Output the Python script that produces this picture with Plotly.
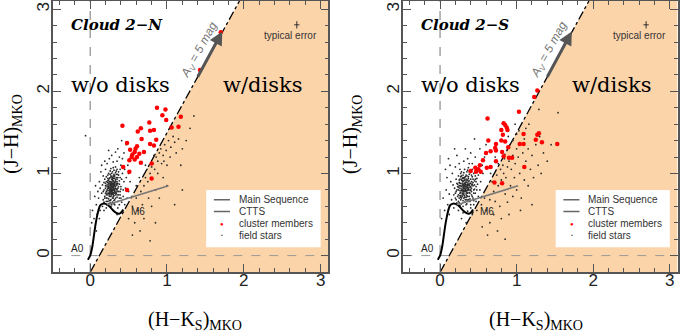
import plotly.graph_objects as go
from plotly.subplots import make_subplots

# ---------------- data ----------------
# Cloud 2-N : cluster members (H-Ks, J-H)
n_members_hk = [0.87, 0.98, 0.94, 0.99, 1.18, 0.77, 0.42, 0.66, 0.62, 0.78, 0.83, 1.06, 1.15,
                0.67, 0.86, 0.48, 0.78, 0.83, 0.61, 0.59, 0.52, 0.58, 0.64, 0.70, 0.55, 0.54,
                0.61, 0.58, 0.51, 0.66, 0.80, 0.43, 0.51, 0.80, 0.48, 1.43, 1.70]
n_members_jh = [1.80, 1.78, 1.71, 1.65, 1.69, 1.62, 1.58, 1.55, 1.51, 1.52, 1.53, 1.56, 1.57,
                1.42, 1.41, 1.37, 1.36, 1.34, 1.33, 1.30, 1.29, 1.26, 1.24, 1.26, 1.23, 1.20,
                1.20, 1.17, 1.16, 1.13, 1.12, 1.08, 1.02, 0.94, 0.80, 2.26, 2.72]

# Cloud 2-S : cluster members
s_members_hk = [1.27, 1.23, 1.03, 0.62, 0.83, 0.85, 0.87, 0.80, 0.88, 0.82, 1.09, 1.04, 1.09,
                1.27, 1.29, 1.25, 1.33, 1.53, 0.63, 0.73, 0.80, 0.85, 0.89, 0.72, 0.73, 0.66,
                0.81, 0.83, 0.90, 0.94, 0.60, 0.56, 0.52, 0.46, 0.50, 0.40, 0.47, 0.53, 0.61,
                0.66, 0.73, 1.10, 0.71, 0.81]
s_members_jh = [2.01, 1.93, 1.75, 1.67, 1.61, 1.59, 1.56, 1.53, 1.53, 1.47, 1.48, 1.36, 1.36,
                1.47, 1.49, 1.41, 1.38, 1.36, 1.40, 1.36, 1.40, 1.39, 1.32, 1.31, 1.28, 1.27,
                1.26, 1.21, 1.19, 1.19, 1.25, 1.16, 1.10, 1.07, 1.05, 1.03, 1.02, 1.02, 1.07,
                1.08, 1.15, 1.08, 0.89, 0.88]

# Cloud 2-N : field stars
n_field = [
    (0.22, 0.70), (0.25, 0.74), (0.28, 0.78), (0.30, 0.80), (0.27, 0.83), (0.24, 0.86), (0.31, 0.88),
    (0.33, 0.84), (0.29, 0.91), (0.26, 0.95), (0.35, 0.90), (0.32, 0.97), (0.21, 0.78), (0.19, 0.72),
    (0.23, 0.66), (0.27, 0.68), (0.30, 0.72), (0.34, 0.76), (0.36, 0.82), (0.38, 0.87), (0.28, 0.86),
    (0.25, 0.81), (0.22, 0.84), (0.20, 0.88), (0.24, 0.92), (0.30, 0.94), (0.34, 0.99), (0.37, 1.02),
    (0.28, 1.00), (0.31, 1.04), (0.26, 0.77), (0.29, 0.75), (0.32, 0.79), (0.27, 0.72), (0.24, 0.69),
    (0.21, 0.74), (0.18, 0.80), (0.23, 0.89), (0.27, 0.90), (0.33, 0.92), (0.29, 0.83), (0.26, 0.85),
    (0.31, 0.82), (0.28, 0.81), (0.25, 0.79), (0.30, 0.86), (0.27, 0.88), (0.32, 0.87), (0.35, 0.86),
    (0.23, 0.82), (0.20, 0.76), (0.17, 0.68), (0.22, 0.62), (0.26, 0.64), (0.31, 0.67), (0.35, 0.71),
    (0.39, 0.78), (0.40, 0.84), (0.41, 0.93), (0.36, 0.95), (0.33, 1.08), (0.27, 1.06), (0.23, 0.98),
    (0.19, 0.93), (0.16, 0.86), (0.15, 0.76), (0.18, 0.65), (0.29, 0.65), (0.33, 0.70), (0.37, 0.74),
    (0.30, 0.77), (0.28, 0.74), (0.25, 0.72), (0.26, 0.88), (0.29, 0.88), (0.24, 0.84), (0.32, 0.85),
    (0.34, 0.81), (0.30, 0.83), (0.27, 0.80), (0.28, 0.93), (0.31, 0.90), (0.25, 0.90), (0.22, 0.80),
    (0.35, 0.78), (0.33, 0.74), (0.21, 0.70), (0.26, 0.67), (0.30, 0.70), (0.38, 0.91), (0.24, 0.76),
    (0.29, 0.79), (0.32, 0.76), (0.27, 0.76), (0.30, 0.97), (0.26, 0.99), (0.34, 0.95), (0.23, 0.94),
    (0.37, 0.98), (0.29, 1.02),
    (0.26, 0.78), (0.28, 0.76), (0.30, 0.75), (0.32, 0.78), (0.29, 0.81), (0.27, 0.85), (0.25, 0.83),
    (0.23, 0.79), (0.31, 0.80), (0.33, 0.82), (0.28, 0.84), (0.30, 0.88), (0.26, 0.90), (0.24, 0.88),
    (0.29, 0.95), (0.32, 0.94), (0.27, 0.97), (0.31, 0.99), (0.35, 0.93), (0.36, 0.88), (0.34, 0.86),
    (0.32, 0.89), (0.29, 0.86), (0.27, 0.82), (0.25, 0.76), (0.23, 0.74), (0.27, 0.74), (0.29, 0.70),
    (0.31, 0.73), (0.33, 0.77), (0.35, 0.80), (0.37, 0.84), (0.34, 0.88), (0.30, 0.91), (0.28, 0.89),
    (0.26, 0.87), (0.22, 0.86), (0.20, 0.82), (0.21, 0.90), (0.25, 0.94), (0.28, 0.96), (0.33, 1.01),
    (0.35, 1.05), (0.30, 1.07), (0.26, 1.03), (0.24, 1.00), (0.21, 0.96), (0.18, 0.89), (0.17, 0.78),
    (0.19, 0.70), (0.21, 0.66), (0.24, 0.63), (0.28, 0.62), (0.32, 0.68), (0.36, 0.66), (0.38, 0.70),
    (0.39, 0.74), (0.37, 0.78), (0.40, 0.81), (0.39, 0.95), (0.27, 0.79), (0.30, 0.84), (0.32, 0.81),
    (0.28, 0.80), (0.26, 0.80), (0.29, 0.77), (0.31, 0.85), (0.27, 0.87), (0.29, 0.93), (0.33, 0.90),
    (0.24, 0.82), (0.22, 0.76), (0.25, 0.67), (0.31, 0.63), (0.35, 0.74), (0.36, 0.99), (0.23, 0.91),
    (0.20, 0.85), (0.34, 1.03), (0.31, 0.96),
    (0.05, 0.45), (0.08, 0.62), (0.10, 0.78), (0.12, 0.90), (0.14, 1.02), (0.11, 0.70), (0.07, 0.85),
    (0.03, 0.55), (0.13, 0.55), (0.09, 0.50), (0.15, 1.10), (0.19, 1.15), (0.22, 1.12), (0.25, 1.18),
    (0.30, 1.14), (0.35, 1.15), (0.40, 1.10), (0.42, 1.00), (0.44, 0.90), (0.46, 0.82), (0.43, 0.72),
    (0.41, 0.65), (0.38, 0.62), (0.36, 0.58), (0.45, 0.62), (0.48, 0.70), (0.50, 0.78), (0.47, 0.95),
    (0.45, 1.05), (0.38, 1.20), (0.33, 1.26), (0.28, 1.22), (0.20, 1.05), (0.17, 0.97), (0.13, 0.82),
    (0.06, 0.72), (0.02, 0.40), (0.12, 0.45), (0.18, 0.55), (0.16, 0.60), (0.21, 0.58), (0.27, 0.60),
    (0.32, 0.62), (0.40, 0.70), (0.43, 0.80), (0.39, 1.05), (0.42, 1.18), (0.36, 1.30), (0.44, 1.25),
    (0.49, 1.10), (-0.06, 1.46), (0.52, 0.90), (0.50, 1.00), (0.08, 0.30), (0.24, 1.28), (0.47, 1.35),
    (0.41, 1.40), (0.53, 1.20), (0.30, 0.55), (0.35, 0.50),
    (0.50, 0.45), (0.55, 0.60), (0.60, 0.70), (0.62, 0.55), (0.66, 0.78), (0.70, 0.85), (0.72, 0.95),
    (0.75, 0.90), (0.78, 1.00), (0.80, 1.08), (0.82, 1.12), (0.84, 1.05), (0.86, 1.20), (0.88, 1.15),
    (0.90, 1.25), (0.92, 1.30), (0.95, 1.22), (0.97, 1.35), (0.99, 1.28), (1.02, 1.40), (1.05, 1.32),
    (1.08, 1.45), (1.10, 1.38), (1.12, 1.25), (1.15, 1.42), (1.20, 1.30), (1.25, 1.40), (1.30, 1.55),
    (1.35, 1.70), (0.76, 0.70), (0.85, 0.80), (0.95, 0.95), (1.00, 1.10), (0.68, 0.62), (0.58, 0.40),
    (0.70, 0.45), (0.80, 0.60), (0.90, 0.70), (1.10, 0.62), (1.20, 0.80), (0.78, 0.18), (0.65, 0.30),
    (0.88, 1.00), (0.93, 1.12), (0.74, 1.05), (0.83, 1.22), (0.96, 1.15), (1.04, 1.20), (0.60, 0.85),
    (0.64, 0.95), (0.72, 1.10), (1.18, 1.10), (1.00, 0.85), (0.55, 0.25), (0.85, 0.40),
]

# Cloud 2-S : field stars
s_field = [
    (0.30, 0.78), (0.33, 0.80), (0.36, 0.83), (0.28, 0.84), (0.31, 0.87), (0.35, 0.89), (0.38, 0.86),
    (0.40, 0.80), (0.34, 0.75), (0.29, 0.72), (0.26, 0.76), (0.24, 0.80), (0.27, 0.88), (0.32, 0.92),
    (0.37, 0.94), (0.41, 0.90), (0.43, 0.85), (0.39, 0.76), (0.36, 0.72), (0.31, 0.70), (0.27, 0.68),
    (0.23, 0.72), (0.21, 0.78), (0.25, 0.85), (0.29, 0.91), (0.33, 0.96), (0.38, 0.99), (0.42, 0.96),
    (0.45, 0.91), (0.44, 0.80), (0.41, 0.74), (0.37, 0.68), (0.32, 0.65), (0.28, 0.63), (0.24, 0.66),
    (0.20, 0.70), (0.19, 0.82), (0.22, 0.88), (0.26, 0.93), (0.30, 0.98), (0.35, 1.02), (0.40, 1.04),
    (0.34, 0.84), (0.32, 0.82), (0.35, 0.79), (0.30, 0.81), (0.28, 0.79), (0.33, 0.86), (0.37, 0.80),
    (0.39, 0.83), (0.31, 0.76), (0.34, 0.71), (0.27, 0.73), (0.25, 0.70), (0.29, 0.86), (0.36, 0.87),
    (0.33, 0.89), (0.30, 0.90), (0.38, 0.91), (0.42, 0.87), (0.47, 0.84), (0.46, 0.76), (0.43, 0.70),
    (0.39, 0.66), (0.35, 0.63), (0.30, 0.60), (0.26, 0.61), (0.22, 0.64), (0.18, 0.74), (0.17, 0.86),
    (0.21, 0.93), (0.24, 0.97), (0.28, 1.02), (0.32, 1.05), (0.37, 1.07), (0.44, 1.00), (0.48, 0.94),
    (0.49, 0.87), (0.31, 0.84), (0.34, 0.93), (0.36, 0.76), (0.29, 0.76), (0.26, 0.82), (0.40, 0.93),
    (0.35, 0.97), (0.32, 0.73), (0.38, 0.72), (0.41, 0.78), (0.23, 0.84), (0.27, 0.96), (0.33, 0.78),
    (0.36, 0.85), (0.31, 0.94), (0.28, 0.70), (0.40, 0.88), (0.35, 0.68), (0.25, 0.89), (0.43, 0.93),
    (0.39, 1.01), (0.30, 0.85),
    (0.32, 0.79), (0.34, 0.82), (0.36, 0.80), (0.33, 0.84), (0.30, 0.83), (0.28, 0.81), (0.31, 0.78),
    (0.35, 0.77), (0.37, 0.82), (0.38, 0.85), (0.35, 0.86), (0.32, 0.88), (0.29, 0.88), (0.27, 0.85),
    (0.26, 0.79), (0.29, 0.74), (0.32, 0.71), (0.35, 0.73), (0.38, 0.77), (0.40, 0.84), (0.41, 0.82),
    (0.39, 0.88), (0.37, 0.90), (0.34, 0.91), (0.31, 0.91), (0.28, 0.92), (0.30, 0.95), (0.34, 0.98),
    (0.37, 0.96), (0.41, 0.98), (0.43, 0.89), (0.45, 0.86), (0.44, 0.76), (0.42, 0.72), (0.39, 0.69),
    (0.36, 0.66), (0.33, 0.68), (0.30, 0.67), (0.27, 0.71), (0.24, 0.74), (0.22, 0.80), (0.23, 0.87),
    (0.25, 0.92), (0.28, 0.97), (0.31, 1.01), (0.36, 1.04), (0.42, 1.05), (0.46, 0.97), (0.47, 0.90),
    (0.45, 0.81), (0.33, 0.81), (0.31, 0.82), (0.34, 0.79), (0.36, 0.81), (0.32, 0.85), (0.30, 0.79),
    (0.35, 0.84), (0.33, 0.87), (0.37, 0.87), (0.29, 0.80), (0.27, 0.77), (0.26, 0.73), (0.31, 0.74),
    (0.39, 0.80), (0.41, 0.86), (0.36, 0.92), (0.32, 0.95), (0.29, 0.94), (0.26, 0.88), (0.24, 0.83),
    (0.20, 0.76), (0.21, 0.68), (0.25, 0.64), (0.34, 0.62), (0.40, 0.62), (0.44, 0.67), (0.48, 0.80),
    (0.46, 0.93), (0.38, 1.02), (0.27, 1.00),
    (0.10, 0.62), (0.12, 0.75), (0.14, 0.90), (0.16, 1.00), (0.08, 0.80), (0.06, 0.55), (0.12, 0.50),
    (0.18, 0.58), (0.20, 1.08), (0.25, 1.12), (0.31, 1.15), (0.36, 1.18), (0.42, 1.12), (0.47, 1.05),
    (0.50, 0.98), (0.53, 0.90), (0.52, 0.80), (0.50, 0.72), (0.47, 0.66), (0.44, 0.62), (0.40, 0.58),
    (0.36, 0.54), (0.30, 0.52), (0.24, 0.55), (0.15, 0.68), (0.09, 0.95), (0.13, 1.10), (0.22, 1.22),
    (0.40, 1.25), (0.46, 1.20), (0.55, 1.10), (0.56, 1.00), (0.04, 0.70), (0.02, 0.45), (0.28, 0.45),
    (0.34, 0.40), (0.42, 0.50), (0.48, 0.55), (0.19, 1.30), (0.33, 1.30), (0.45, 1.42), (0.52, 1.30),
    (0.58, 1.20), (0.60, 1.35), (0.11, 1.18), (0.07, 1.05), (0.26, 1.05), (0.38, 1.12), (0.54, 0.62),
    (0.58, 0.70),
    (0.60, 0.55), (0.65, 0.68), (0.70, 0.78), (0.72, 0.66), (0.76, 0.85), (0.80, 0.92), (0.83, 1.00),
    (0.86, 0.95), (0.88, 1.08), (0.90, 1.15), (0.93, 1.05), (0.95, 1.22), (0.98, 1.12), (1.00, 1.30),
    (1.02, 1.20), (1.05, 1.35), (1.08, 1.25), (1.10, 1.42), (1.12, 1.15), (1.15, 1.30), (1.18, 1.05),
    (1.20, 1.22), (1.25, 1.35), (1.28, 1.10), (1.30, 1.45), (1.35, 1.25), (1.40, 1.15), (1.29, 1.78),
    (1.54, 1.74), (0.92, 0.85), (0.97, 0.95), (1.04, 1.00), (1.10, 0.92), (0.85, 0.75), (0.78, 0.60),
    (0.88, 0.65), (0.95, 0.72), (1.00, 0.80), (1.06, 0.70), (1.15, 0.85), (0.70, 0.50), (0.80, 0.45),
    (0.65, 0.40), (0.75, 0.30), (0.90, 0.50), (1.20, 0.62), (1.05, 0.55), (0.55, 0.35), (0.95, 1.40),
    (1.00, 1.48), (0.84, 1.18), (0.87, 1.28), (0.82, 1.10), (0.91, 1.35), (1.03, 1.52), (1.12, 1.55),
    (0.98, 1.60), (0.68, 0.90), (0.74, 0.98), (0.79, 1.05), (1.22, 0.95), (1.32, 1.00), (0.62, 0.25),
    (0.85, 0.20), (1.45, 1.35), (0.76, 1.12), (0.89, 1.45), (1.16, 1.60), (0.72, 1.20), (0.66, 1.00),
]

# intrinsic loci
ms_hk = [-0.03, 0.00, 0.03, 0.05, 0.07, 0.09, 0.11, 0.13, 0.16, 0.20, 0.25, 0.30, 0.34, 0.38, 0.41, 0.43]
ms_jh = [-0.05, 0.00, 0.12, 0.25, 0.38, 0.48, 0.56, 0.61, 0.63, 0.63, 0.60, 0.55, 0.52, 0.51, 0.53, 0.56]
ctts_hk = [0.22, 1.02]
ctts_jh = [0.62, 0.85]

# reddening boundary  J-H = slope * (H-K - x0)
red_slope = 1.70
red_x0 = 0.12
# A_V = 5 mag vector
av_start = (1.39, 2.16)
av_end = (1.72, 2.73)
# typical error
err_pos = (2.69, 2.81)
err_size = (0.035, 0.045)

X_RANGE = [-0.48, 3.10]
Y_RANGE = [-0.20, 3.10]

panels = [
    ("Cloud 2−N", n_members_hk, n_members_jh, n_field),
    ("Cloud 2−S", s_members_hk, s_members_jh, s_field),
]

fig = make_subplots(rows=1, cols=2)

SANS = "Liberation Sans"
SERIF = "DejaVu Serif"
ORANGE = "#fcd4aa"

for i, (name, m_hk, m_jh, field) in enumerate(panels):
    col = i + 1
    xr = "x" if i == 0 else "x2"
    yr = "y" if i == 0 else "y2"

    # shaded "with disk" region right of the reddening band
    xb = red_x0 + Y_RANGE[0] / red_slope
    xt = red_x0 + Y_RANGE[1] / red_slope
    fig.add_shape(type="path", xref=xr, yref=yr, layer="below",
                  path=f"M {xb},{Y_RANGE[0]} L {xt},{Y_RANGE[1]} L {X_RANGE[1]},{Y_RANGE[1]} "
                       f"L {X_RANGE[1]},{Y_RANGE[0]} Z",
                  fillcolor=ORANGE, line=dict(width=0))
    fig.add_shape(type="line", xref=xr, yref=yr, layer="below",
                  x0=0, x1=0, y0=Y_RANGE[0], y1=Y_RANGE[1],
                  line=dict(color="#777", width=1, dash="dash"))
    fig.add_shape(type="line", xref=xr, yref=yr, layer="below",
                  x0=X_RANGE[0], x1=X_RANGE[1], y0=0, y1=0,
                  line=dict(color="#999", width=1, dash="dash"))
    fig.add_shape(type="line", xref=xr, yref=yr, layer="below",
                  x0=xb, x1=xt, y0=Y_RANGE[0], y1=Y_RANGE[1],
                  line=dict(color="black", width=1.3, dash="dashdot"))

    fx = [p[0] for p in field]
    fy = [p[1] for p in field]
    fig.add_trace(go.Scatter(x=fx, y=fy, mode="markers", showlegend=False,
                             marker=dict(size=1.8, color="#2a2a2a", line=dict(width=0))),
                  row=1, col=col)
    fig.add_trace(go.Scatter(x=ms_hk, y=ms_jh, mode="lines", showlegend=False,
                             line=dict(color="black", width=2, shape="spline", smoothing=0.6)),
                  row=1, col=col)
    fig.add_trace(go.Scatter(x=ctts_hk, y=ctts_jh, mode="lines", showlegend=False,
                             line=dict(color="#777", width=1.6)),
                  row=1, col=col)
    fig.add_trace(go.Scatter(x=m_hk, y=m_jh, mode="markers", showlegend=False,
                             marker=dict(size=4.5, color="red", line=dict(width=0))),
                  row=1, col=col)
    # typical error cross
    fig.add_trace(go.Scatter(x=[err_pos[0]], y=[err_pos[1]], mode="markers", showlegend=False,
                             marker=dict(size=1, color="#333"),
                             error_x=dict(type="constant", value=err_size[0], width=0,
                                          thickness=1, color="#333"),
                             error_y=dict(type="constant", value=err_size[1], width=0,
                                          thickness=1, color="#333")),
                  row=1, col=col)

    # reddening vector
    fig.add_annotation(xref=xr, yref=yr, axref=xr, ayref=yr,
                       x=av_end[0], y=av_end[1], ax=av_start[0], ay=av_start[1],
                       text="", showarrow=True, arrowhead=2, arrowsize=0.9,
                       arrowwidth=3, arrowcolor="#555")
    fig.add_annotation(xref=xr, yref=yr, x=1.43, y=2.50, showarrow=False,
                       text="<i>A<sub>V</sub> = 5 mag</i>", textangle=-61,
                       font=dict(family=SANS, size=12, color="#777"))

    # texts
    fig.add_annotation(xref=xr, yref=yr, x=-0.28, y=2.81, xanchor="left", showarrow=False,
                       text=f"<b><i>{name}</i></b>",
                       font=dict(family=SERIF, size=15, color="black"))
    fig.add_annotation(xref=xr, yref=yr, x=0.40, y=2.08, showarrow=False,
                       text="w/o disks", font=dict(family=SERIF, size=21, color="black"))
    fig.add_annotation(xref=xr, yref=yr, x=2.25, y=2.08, showarrow=False,
                       text="w/disks", font=dict(family=SERIF, size=21, color="black"))
    fig.add_annotation(xref=xr, yref=yr, x=2.61, y=2.68, showarrow=False,
                       text="typical error", font=dict(family=SANS, size=10, color="#333"))
    fig.add_annotation(xref=xr, yref=yr, x=0.50, y=0.54, xanchor="left", showarrow=False,
                       text="M6", font=dict(family=SANS, size=10, color="#222"))
    fig.add_annotation(xref=xr, yref=yr, x=-0.05, y=0.09, xanchor="right", showarrow=False,
                       text="A0", font=dict(family=SANS, size=10, color="#222"))

    # hand drawn legend box
    fig.add_shape(type="rect", xref=xr, yref=yr, layer="above",
                  x0=1.51, x1=3.0, y0=0.10, y1=0.80,
                  fillcolor="white", line=dict(width=0))
    for ly in (0.68, 0.537):
        fig.add_shape(type="line", xref=xr, yref=yr, layer="above",
                      x0=1.61, x1=1.82, y0=ly, y1=ly,
                      line=dict(color="#666", width=1.3))
    fig.add_annotation(xref=xr, yref=yr, x=1.72, y=0.39, showarrow=False,
                       text="●", font=dict(family=SANS, size=6, color="red"))
    fig.add_annotation(xref=xr, yref=yr, x=1.72, y=0.245, showarrow=False,
                       text="●", font=dict(family=SANS, size=3, color="black"))
    for ly, lab in zip((0.68, 0.537, 0.39, 0.245),
                       ("Main Sequence", "CTTS", "cluster members", "field stars")):
        fig.add_annotation(xref=xr, yref=yr, x=1.91, y=ly, xanchor="left", showarrow=False,
                           text=lab, font=dict(family=SANS, size=10, color="#333"))

    # axis titles
    fig.add_annotation(xref="paper", yref="paper", x=[0.019, 0.518][i], y=0.51,
                       xanchor="center", yanchor="middle",
                       showarrow=False, textangle=-90,
                       text="(J−H)<sub>MKO</sub>",
                       font=dict(family="Liberation Serif", size=20, color="black"))
    fig.add_annotation(xref="paper", yref="paper", x=[0.287, 0.788][i], y=-0.18,
                       xanchor="center", yanchor="middle",
                       showarrow=False,
                       text="(H−K<sub>S</sub>)<sub>MKO</sub>",
                       font=dict(family="Liberation Serif", size=20, color="black"))

axis_common = dict(showgrid=False, zeroline=False, showline=True, linecolor="#555",
                   linewidth=1.5, mirror="allticks", ticks="inside", ticklen=8,
                   tickwidth=1, tickcolor="#555", dtick=1,
                   minor=dict(ticks="inside", ticklen=4, dtick=0.2, tickcolor="#555",
                              showgrid=False),
                   tickfont=dict(family=SANS, size=17, color="#222"))

fig.update_xaxes(range=X_RANGE, ticklabelstandoff=-8, **axis_common)
fig.update_yaxes(range=Y_RANGE, tickangle=-90, ticklabelstandoff=-4, **axis_common)
fig.update_layout(
    xaxis=dict(domain=[53.3 / 680, 328.3 / 680]),
    xaxis2=dict(domain=[403.3 / 680, 677.5 / 680]),
    width=680, height=335,
    margin=dict(l=0, r=0, t=1, b=63),
    plot_bgcolor="white", paper_bgcolor="white",
    showlegend=False,
)

fig.write_html("out.html", config={"displayModeBar": False},
               post_script="document.body.style.margin='0px';")
